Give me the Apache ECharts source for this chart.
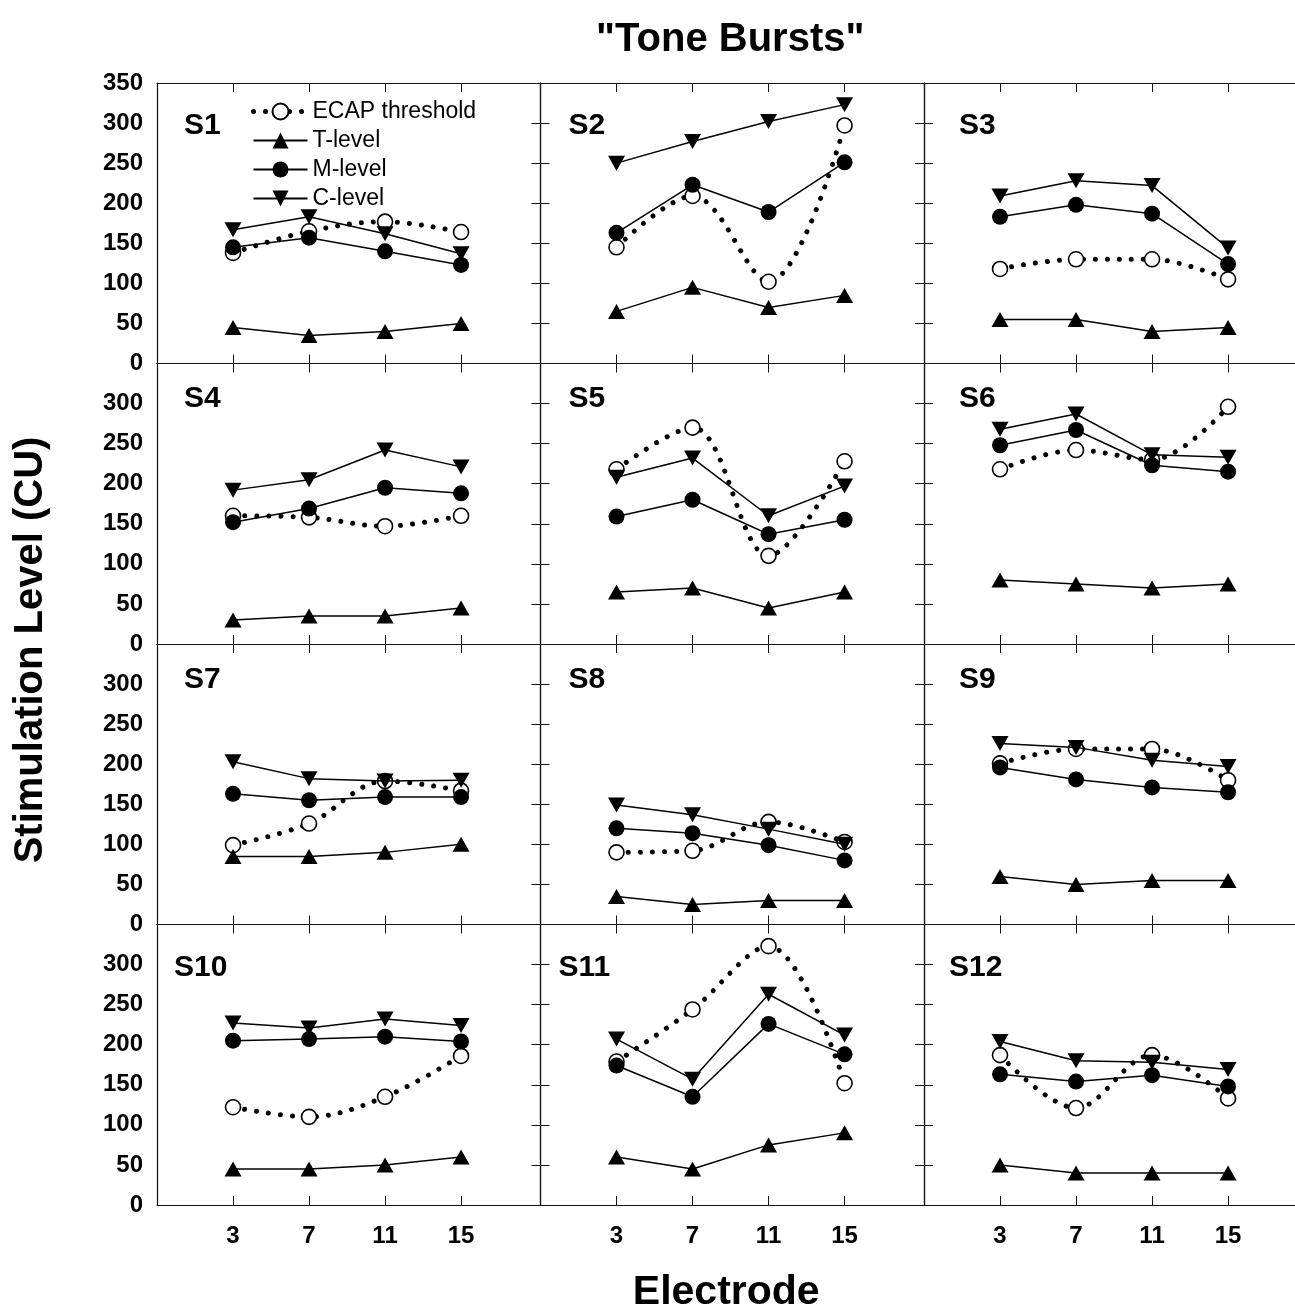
<!DOCTYPE html>
<html><head><meta charset="utf-8">
<script src="https://cdn.jsdelivr.net/npm/echarts@6/dist/echarts.min.js"></script>
<style>html,body{margin:0;padding:0;background:#fff}#c{width:1295px;height:1311px}</style>
</head><body><div id="c"></div>
<script>
// ---- data ----
const electrodes = [3, 7, 11, 15];
const subjects = ['S1','S2','S3','S4','S5','S6','S7','S8','S9','S10','S11','S12'];
const ecap = [
  [138,165,177,164],[145,209,102,297],[118,130,130,105],
  [160,158,147,160],[218,270,110,228],[218,242,230,296],
  [99,126,179,167],[90,92,128,103],[201,219,219,180],
  [122,110,135,186],[179,244,323,152],[187,121,187,133]
];
const tLevel = [
  [45,35,40,50],[65,95,70,85],[55,55,40,45],
  [30,35,35,45],[65,70,45,65],[80,75,70,75],
  [85,85,90,100],[35,25,30,30],[60,50,55,55],
  [45,45,50,60],[60,45,75,90],[50,40,40,40]
];
const mLevel = [
  [145,157,140,123],[163,223,189,251],[183,198,187,124],
  [152,169,195,188],[159,180,137,155],[248,267,223,215],
  [163,155,159,159],[120,114,99,80],[196,181,171,165],
  [205,207,210,204],[174,135,226,188],[163,154,162,148]
];
const cLevel = [
  [167,183,162,137],[250,277,302,323],[209,228,222,144],
  [192,205,242,221],[208,232,160,197],[268,287,236,233],
  [203,182,179,180],[149,137,119,100],[226,221,205,197],
  [227,221,232,224],[207,157,263,212],[204,180,178,169]
];
const yTicks = [0, 50, 100, 150, 200, 250, 300, 350];
const seriesNames = ['ECAP threshold', 'T-level', 'M-level', 'C-level'];
const mainTitle = '"Tone Bursts"';
const xTitle = 'Electrode';
const yTitle = 'Stimulation Level (CU)';

// ---- layout ----
const FONT = '"Liberation Sans", Arial, Helvetica, sans-serif';
const G_LEFT = 157, G_TOP = 83, G_W = 383.5, G_H = 280.5;
const X_MIN = -1, X_MAX = 19.18;
const colOff = [27, 28, 35];
const rowOff = [43, 35, 36, 43];
const AX = '#111';
const dotted = { color: '#000', width: 5, type: [0.01, 12], cap: 'round' };

const grids = [], xAxes = [], yAxes = [], series = [], graphics = [];
subjects.forEach((s, i) => {
  const col = i % 3, row = Math.floor(i / 3);
  const left = G_LEFT + col * G_W, top = G_TOP + row * G_H;
  grids.push({ left: left, top: top, width: G_W, height: G_H, containLabel: false, outerBoundsMode: 'none' });
  const tick = { show: true, inside: true, length: 9, customValues: electrodes, lineStyle: { color: AX, width: 1 } };
  xAxes.push({
    type: 'value', gridIndex: i, position: 'bottom', min: X_MIN, max: X_MAX,
    axisLine: { show: true, onZero: false, lineStyle: { color: AX, width: 1.2 } },
    axisTick: tick,
    axisLabel: { show: row === 3, customValues: electrodes, fontSize: 24, fontWeight: 'bold', color: '#000', fontFamily: FONT, margin: 19 },
    splitLine: { show: false }
  });
  xAxes.push({
    type: 'value', gridIndex: i, position: 'top', min: X_MIN, max: X_MAX,
    axisLine: { show: true, onZero: false, lineStyle: { color: AX, width: 1.2 } },
    axisTick: tick, axisLabel: { show: false }, splitLine: { show: false }
  });
  yAxes.push({
    type: 'value', gridIndex: i, position: 'left', min: 0, max: 350, interval: 50,
    axisLine: { show: true, onZero: false, lineStyle: { color: AX, width: 1.2 } },
    axisTick: { show: col > 0, inside: true, length: 9, lineStyle: { color: AX, width: 1 } },
    axisLabel: {
      show: col === 0, fontSize: 24, fontWeight: 'bold', color: '#000', fontFamily: FONT, margin: 14,
      formatter: v => (row > 0 && v === yTicks[yTicks.length - 1]) ? '' : String(v)
    },
    splitLine: { show: false }
  });
  yAxes.push({
    type: 'value', gridIndex: i, position: 'right', min: 0, max: 350, interval: 50,
    axisLine: { show: true, onZero: false, lineStyle: { color: AX, width: 1.2 } },
    axisTick: { show: true, inside: true, length: 9, lineStyle: { color: AX, width: 1 } },
    axisLabel: { show: false }, splitLine: { show: false }
  });
  const xi = 2 * i, yi = 2 * i;
  const pts = arr => electrodes.map((e, k) => [e, arr[k]]);
  series.push({
    name: seriesNames[0], type: 'line', xAxisIndex: xi, yAxisIndex: yi, data: pts(ecap[i]),
    smooth: 0.35, symbol: 'circle', symbolSize: 15,
    itemStyle: { color: '#fff', borderColor: '#000', borderWidth: 1.6 },
    lineStyle: dotted, z: 2, animation: false
  });
  series.push({
    name: seriesNames[1], type: 'line', xAxisIndex: xi, yAxisIndex: yi, data: pts(tLevel[i]),
    symbol: 'triangle', symbolSize: [17, 15],
    itemStyle: { color: '#000' }, lineStyle: { color: '#000', width: 1.5 },
    z: 3, animation: false
  });
  series.push({
    name: seriesNames[2], type: 'line', xAxisIndex: xi, yAxisIndex: yi, data: pts(mLevel[i]),
    symbol: 'circle', symbolSize: 16,
    itemStyle: { color: '#000' }, lineStyle: { color: '#000', width: 1.5 },
    z: 3, animation: false
  });
  series.push({
    name: seriesNames[3], type: 'line', xAxisIndex: xi, yAxisIndex: yi, data: pts(cLevel[i]),
    symbol: 'triangle', symbolRotate: 180, symbolSize: [17, 15],
    itemStyle: { color: '#000' }, lineStyle: { color: '#000', width: 1.5 },
    z: 3, animation: false
  });
  graphics.push({
    type: 'text', x: left + colOff[col] - (s.length > 2 ? 10 : 0), y: top + rowOff[row],
    style: { text: s, font: 'bold 30px ' + FONT, fill: '#000', textVerticalAlign: 'middle' }, z: 10
  });
});

const centerX = G_LEFT + 1.5 * G_W;
graphics.push({ type: 'text', x: centerX - 2, y: 40,
  style: { text: mainTitle, font: 'bold 40px ' + FONT, fill: '#000', textAlign: 'center', textVerticalAlign: 'middle' } });
graphics.push({ type: 'text', x: centerX - 6, y: 1293,
  style: { text: xTitle, font: 'bold 41px ' + FONT, fill: '#000', textAlign: 'center', textVerticalAlign: 'middle' } });
graphics.push({ type: 'text', x: 31, y: 650, rotation: Math.PI / 2,
  style: { text: yTitle, font: 'bold 40px ' + FONT, fill: '#000', textAlign: 'center', textVerticalAlign: 'middle' } });

const chart = echarts.init(document.getElementById('c'), null, { renderer: 'canvas' });
chart.setOption({
  backgroundColor: '#fff',
  animation: false,
  grid: grids, xAxis: xAxes, yAxis: yAxes, series: series,
  legend: {
    data: [
      { name: seriesNames[0], lineStyle: { width: 5, type: [0.01, 12], cap: 'round' } },
      { name: seriesNames[1] }, { name: seriesNames[2] }, { name: seriesNames[3] }
    ],
    orient: 'vertical', left: 246, top: 95,
    itemWidth: 54, itemHeight: 20, itemGap: 6, selectedMode: false,
    textStyle: { fontSize: 23, lineHeight: 22, color: '#000', fontFamily: FONT }
  },
  graphic: graphics
});
</script></body></html>
